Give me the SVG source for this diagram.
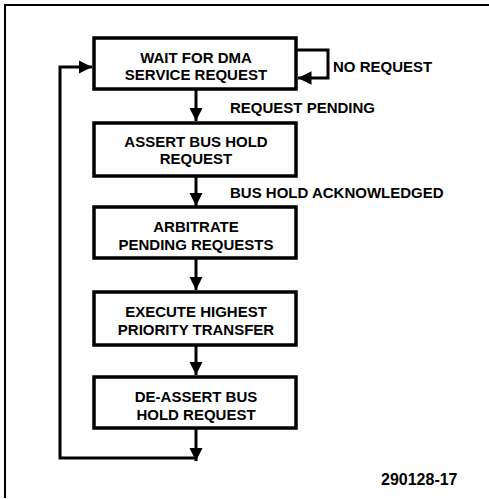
<svg xmlns="http://www.w3.org/2000/svg" width="489" height="499" viewBox="0 0 489 499">
<defs>
<style>
.box{fill:#fff;stroke:#000;stroke-width:3.5}
.ln{fill:none;stroke:#000;stroke-width:3}
.frame{fill:none;stroke:#000;stroke-width:2}
text{font-family:"Liberation Sans",Arial,sans-serif;font-weight:bold;font-size:15px;fill:#000}
.c{text-anchor:middle}
</style>
<marker id="ah" viewBox="0 0 10 10" refX="10" refY="5" markerWidth="4.5" markerHeight="4.5" markerUnits="strokeWidth" orient="auto">
<path d="M0,0 L10,5 L0,10 Z" fill="#000"/>
</marker>
</defs>
<rect width="489" height="499" fill="#fff"/>
<path class="frame" d="M5,498 L5,5 L489,5"/>
<g id="connectors">
<path class="ln" d="M196,90 L196,121" marker-end="url(#ah)"/>
<path class="ln" d="M196,177 L196,206" marker-end="url(#ah)"/>
<path class="ln" d="M196,259 L196,290" marker-end="url(#ah)"/>
<path class="ln" d="M196,346 L196,375" marker-end="url(#ah)"/>
<path class="ln" d="M196,429 L196,461" marker-end="url(#ah)"/>
<path class="ln" d="M196,458 L60,458 L60,67 L92,67" marker-end="url(#ah)"/>
<path class="ln" d="M297,50 L328,50 L328,78 L298,78" marker-end="url(#ah)"/>
<text x="333" y="72">NO REQUEST</text>
<text x="230" y="113">REQUEST PENDING</text>
<text x="230" y="198">BUS HOLD ACKNOWLEDGED</text>
</g>
<g id="n1">
<rect class="box" x="94" y="38" width="202" height="51"/>
<text class="c" x="196" y="63">WAIT FOR DMA</text>
<text class="c" x="196" y="80">SERVICE REQUEST</text>
</g>
<g id="n2">
<rect class="box" x="94" y="123" width="202" height="53"/>
<text class="c" x="196" y="147">ASSERT BUS HOLD</text>
<text class="c" x="196" y="164">REQUEST</text>
</g>
<g id="n3">
<rect class="box" x="94" y="207" width="202" height="51"/>
<text class="c" x="196" y="232">ARBITRATE</text>
<text class="c" x="196" y="250">PENDING REQUESTS</text>
</g>
<g id="n4">
<rect class="box" x="94" y="292" width="202" height="53"/>
<text class="c" x="196" y="317">EXECUTE HIGHEST</text>
<text class="c" x="196" y="335">PRIORITY TRANSFER</text>
</g>
<g id="n5">
<rect class="box" x="94" y="377" width="202" height="51"/>
<text class="c" x="196" y="402">DE-ASSERT BUS</text>
<text class="c" x="196" y="420">HOLD REQUEST</text>
</g>
<text x="381" y="485" style="font-size:16px">290128-17</text>
</svg>
